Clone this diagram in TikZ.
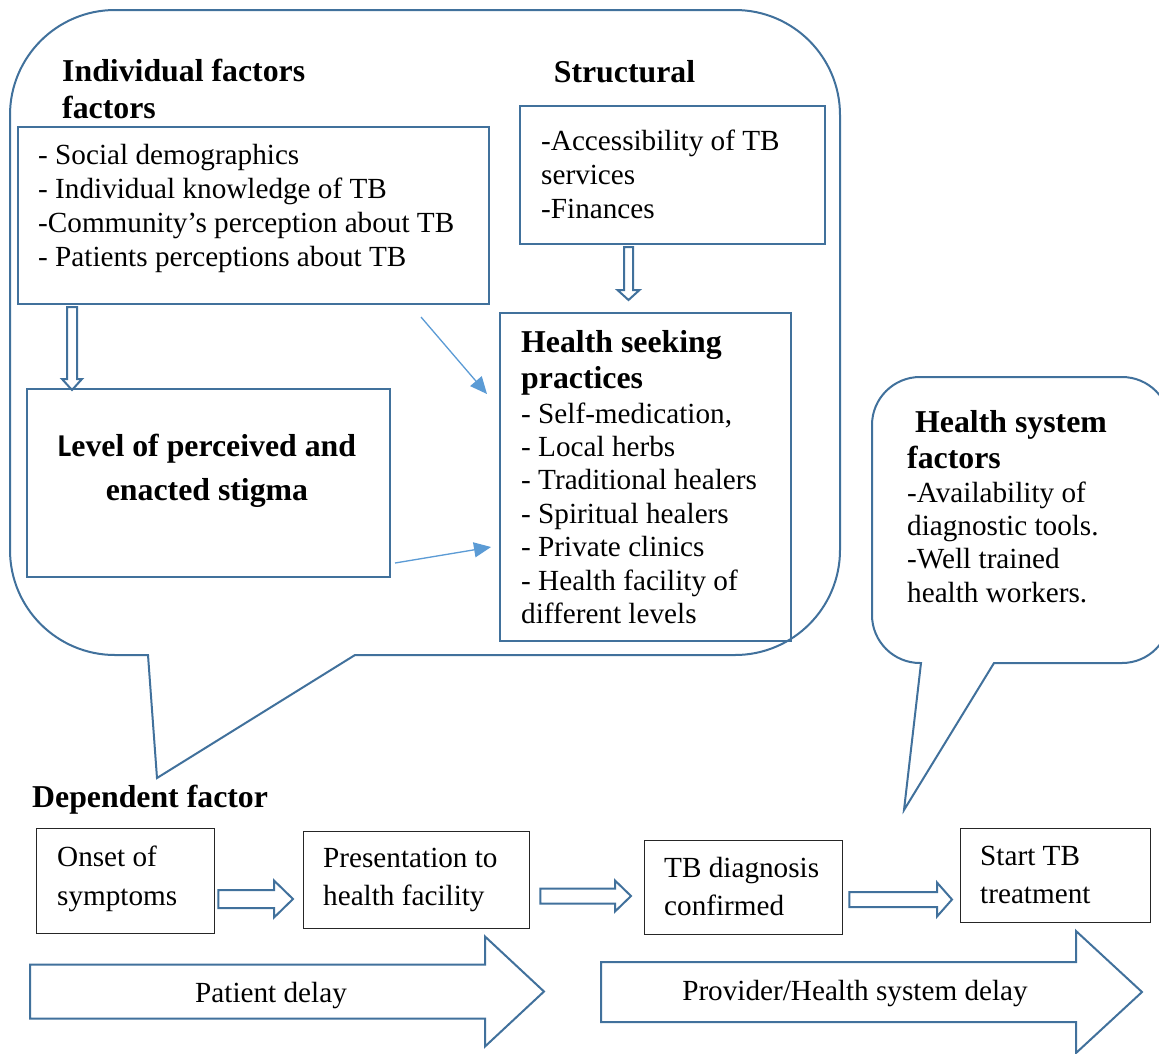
\documentclass[tikz,border=0pt]{standalone}
\usepackage{fontspec}
\setmainfont{Liberation Serif}
\newfontfamily\calibfont{Carlito}
\usetikzlibrary{calc,arrows.meta}
\definecolor{outl}{RGB}{65,113,156}
\definecolor{thinb}{RGB}{91,155,213}
\newcommand\harrowshape[5]{% A, B, shaft half, head half, head length
  \draw[hollowarr] ($(#1)+(0,-#3)$) -- ($(#2)+(-#5,-#3)$) -- ($(#2)+(-#5,-#4)$) -- (#2)
    -- ($(#2)+(-#5,#4)$) -- ($(#2)+(-#5,#3)$) -- ($(#1)+(0,#3)$) -- cycle;}
\newcommand\varrowshape[5]{%
  \draw[hollowarr] ($(#1)+(-#3,0)$) -- ($(#2)+(-#3,-#5)$) -- ($(#2)+(-#4,-#5)$) -- (#2)
    -- ($(#2)+(#4,-#5)$) -- ($(#2)+(#3,-#5)$) -- ($(#1)+(#3,0)$) -- cycle;}
\begin{document}
\begin{tikzpicture}[x=1pt,y=-1pt,
  bl/.style={draw=outl, line width=2pt, line join=miter},
  hollowarr/.style={draw=outl, line width=2pt, fill=white, line join=miter},
  bbox/.style={draw=outl, line width=2pt, rectangle, inner sep=0pt, anchor=north west},
  kbox/.style={draw=black!85, line width=1.3pt, rectangle, inner sep=0pt, anchor=north west},
  txt/.style={anchor=base west, inner sep=0pt, align=left, font=\fontsize{29.2}{34}\selectfont},
  btxt/.style={anchor=base west, inner sep=0pt, align=left, font=\fontsize{31.8}{36}\selectfont\bfseries},
  thinarr/.style={draw=thinb, line width=1.3pt, -{Triangle[length=17pt,width=15pt]}}
]
\fill[white] (0,0) rectangle (1159,1053);
\useasboundingbox (0,0) rectangle (1159,1053);

% big callout
\draw[bl] (148,655) -- (157,778) -- (355,655) -- (735,655)
  arc[start angle=90,end angle=0,radius=105] -- (840,115)
  arc[start angle=0,end angle=-90,radius=105] -- (115,10)
  arc[start angle=-90,end angle=-180,radius=105] -- (10,550)
  arc[start angle=180,end angle=90,radius=105] -- cycle;

% health system callout
\draw[bl] (921,663) -- (904,810) -- (994,663) -- (1122,663)
  arc[start angle=90,end angle=0,radius=48] -- (1170,425)
  arc[start angle=0,end angle=-90,radius=48] -- (920,377)
  arc[start angle=-90,end angle=-180,radius=48] -- (872,615)
  arc[start angle=180,end angle=90,radius=48] -- cycle;

% boxes
\node[bbox, minimum width=471pt, minimum height=177pt] (indiv) at (17,126) {};
\node[bbox, minimum width=305pt, minimum height=138pt] (struct) at (519,105) {};
\node[bbox, minimum width=363pt, minimum height=188pt] (level) at (26,388) {};
\node[bbox, minimum width=291pt, minimum height=328pt] (hseek) at (499,312) {};
\node[kbox, minimum width=178pt, minimum height=105pt] (onset) at (36,828) {};
\node[kbox, minimum width=226pt, minimum height=97pt] (pres) at (303,831) {};
\node[kbox, minimum width=198pt, minimum height=94pt] (tbd) at (644,840) {};
\node[kbox, minimum width=190pt, minimum height=94pt] (start) at (960,828) {};

% texts (multi-line nodes are placed at the baseline of their last line)
\node[btxt, font=\fontsize{31.8}{37}\selectfont\bfseries] (indivtitle) at (62,118) {Individual factors\\factors};
\node[txt] (indivtext) at (38,266) {- Social demographics\\- Individual knowledge of TB\\-Community’s perception about TB\\- Patients perceptions about TB};
\node[btxt, anchor=base] (structtitle) at (624.5,82) {Structural};
\node[txt] (structtext) at (541,218) {-Accessibility of TB\\services\\-Finances};
\node[btxt, anchor=base, align=center, font=\fontsize{31.8}{44}\selectfont\bfseries] (leveltext) at (207,500) {{\calibfont L}evel of perceived and\\enacted stigma};
\node[btxt] (hstitle) at (521,388) {Health seeking\\practices};
\node[txt, font=\fontsize{29.2}{33.4}\selectfont] (hstext) at (521,623.4) {- Self-medication,\\- Local herbs\\- Traditional healers\\- Spiritual healers\\- Private clinics\\- Health facility of\\different levels};
\node[btxt] (hsystitle) at (907,468) {\hspace*{8pt}Health system\\factors};
\node[txt, font=\fontsize{29.2}{33.3}\selectfont] (hsystext) at (907,602) {-Availability of\\diagnostic tools.\\-Well trained\\health workers.};
\node[btxt] (dep) at (32,807) {Dependent factor};
\node[txt, font=\fontsize{29.2}{39}\selectfont] (onsettext) at (57,905) {Onset of\\symptoms};
\node[txt, font=\fontsize{29.2}{38}\selectfont] (prestext) at (323,905) {Presentation to\\health facility};
\node[txt, font=\fontsize{29.2}{38}\selectfont] (tbdtext) at (664,915) {TB diagnosis\\confirmed};
\node[txt, font=\fontsize{29.2}{38}\selectfont] (starttext) at (980,903) {Start TB\\treatment};

% vertical hollow arrows
\coordinate (v1a) at ($(indiv.south west)+(55,2)$);
\coordinate (v1b) at ($(level.north west)+(46,2)$);
\varrowshape{v1a}{v1b}{5}{10}{11}
\coordinate (v2a) at ($(struct.south west)+(109.5,2)$);
\coordinate (v2b) at ($(hseek.north west)+(129.5,-12)$);
\varrowshape{v2a}{v2b}{4.5}{11}{10}

% thin arrows
\coordinate (t1s) at (421,317);
\coordinate (t1e) at (487,394);
\coordinate (t2s) at ($(level.east)+(4,80)$);
\coordinate (t2e) at (491,547);
\draw[thinarr] (t1s) -- (t1e);
\draw[thinarr] (t2s) -- (t2e);

% horizontal hollow arrows between steps
\coordinate (h1a) at ($(onset.east |- 0,899)+(3,0)$);
\coordinate (h1b) at ($(pres.west |- 0,899)+(-10,0)$);
\harrowshape{h1a}{h1b}{9}{18.5}{19}
\coordinate (h2a) at ($(pres.east |- 0,896)+(10,0)$);
\coordinate (h2b) at ($(tbd.west |- 0,896)+(-13,0)$);
\harrowshape{h2a}{h2b}{7.5}{15.5}{16}
\coordinate (h3a) at ($(tbd.east |- 0,899.5)+(6,0)$);
\coordinate (h3b) at ($(start.west |- 0,899.5)+(-8,0)$);
\harrowshape{h3a}{h3b}{7.5}{17}{15}

% delay block arrows
\coordinate (pda) at (30,991.5);
\coordinate (pdb) at (544,991.5);
\harrowshape{pda}{pdb}{27}{55}{59}
\node[txt, anchor=base, font=\fontsize{29.2}{34}\selectfont] (pdtext) at (271,1002) {Patient delay};
\coordinate (hsa) at (601,992);
\coordinate (hsb) at (1142,992);
\harrowshape{hsa}{hsb}{30}{61}{66}
\node[txt, anchor=base, font=\fontsize{29.2}{34}\selectfont] (hstext2) at (855,1000) {Provider/Health system delay};
\end{tikzpicture}
\end{document}
